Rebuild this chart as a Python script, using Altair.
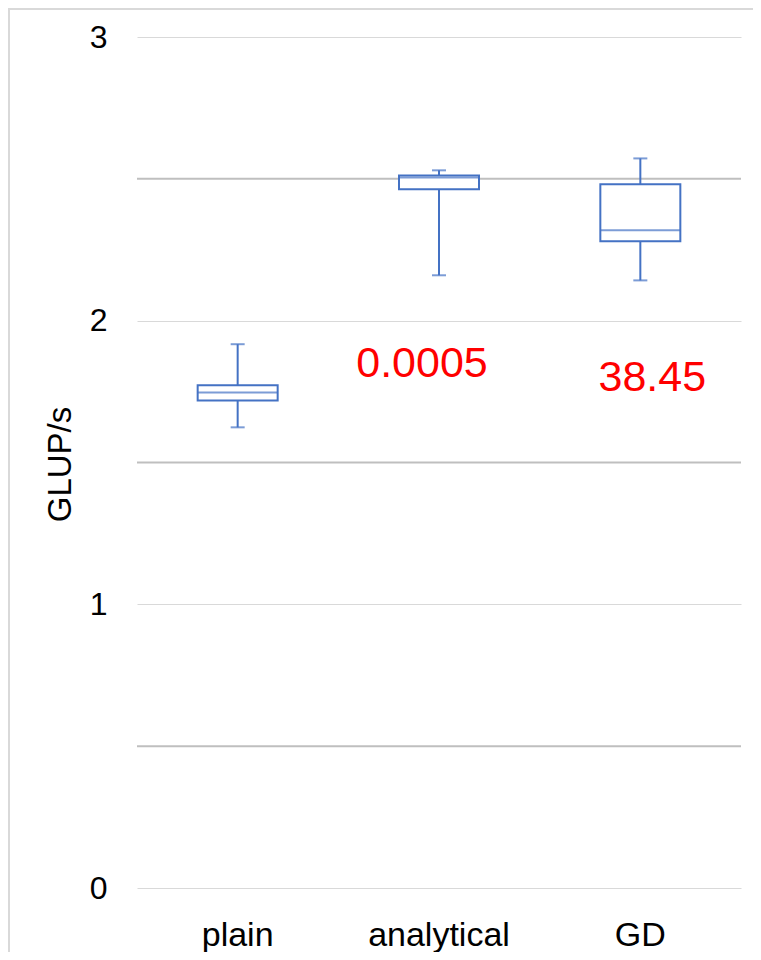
import altair as alt
import pandas as pd

# ---- data ----
categories = ["plain", "analytical", "GD"]
whisker_low = [1.624, 2.160, 2.142]
q1 = [1.719, 2.463, 2.280]
median = [1.747, 2.505, 2.319]
q3 = [1.772, 2.512, 2.481]
whisker_high = [1.917, 2.530, 2.572]

note_texts = ["0.0005", "38.45"]
note_categories = ["analytical", "GD"]
note_values = [1.800, 1.751]

major_ticks = [0, 1, 2, 3]
half_grid = [0.5, 1.5, 2.5]

FONT = "Liberation Sans"
BLUE = "#4472C4"

df = pd.DataFrame({
    "cat": categories,
    "lo": whisker_low,
    "q1": q1,
    "med": median,
    "q3": q3,
    "hi": whisker_high,
})
notes = pd.DataFrame({"cat": note_categories, "txt": note_texts, "v": note_values})
half = pd.DataFrame({"v": half_grid})

x_enc = alt.X(
    "cat:N",
    sort=categories,
    scale=alt.Scale(paddingInner=0, paddingOuter=0),
    axis=alt.Axis(
        title=None, ticks=False, domain=False, labelAngle=0,
        labelFontSize=34, labelFont=FONT, labelColor="#000000",
        labelPadding=57, labelBaseline="alphabetic",
    ),
)
y_scale = alt.Scale(domain=[0, 3], nice=False, zero=True)
y_axis = alt.Axis(
    values=major_ticks, format="d", ticks=False, domain=False,
    labelFontSize=32, labelFont=FONT, labelColor="#000000", labelPadding=30,
    grid=True, gridColor="#d9d9d9", gridWidth=1.2,
    title="GLUP/s", titleFont=FONT, titleFontSize=33, titleFontWeight="normal",
    titleColor="#000000", titleX=-77, titleY=427, titleAngle=270,
    titleAlign="center", titleBaseline="middle",
)

base = alt.Chart(df)

half_rules = alt.Chart(half).mark_rule(color="#bfbfbf", strokeWidth=2).encode(
    y=alt.Y("v:Q", scale=y_scale, axis=y_axis)
)

whisk_low = base.mark_rule(color=BLUE, strokeWidth=2).encode(
    x=x_enc, y=alt.Y("lo:Q", scale=y_scale), y2="q1:Q"
)
whisk_high = base.mark_rule(color=BLUE, strokeWidth=2).encode(
    x=x_enc, y=alt.Y("q3:Q", scale=y_scale), y2="hi:Q"
)
cap_low = base.mark_tick(color=BLUE, size=14, thickness=2, orient="horizontal").encode(
    x=x_enc, y=alt.Y("lo:Q", scale=y_scale)
)
cap_high = base.mark_tick(color=BLUE, size=14, thickness=2, orient="horizontal").encode(
    x=x_enc, y=alt.Y("hi:Q", scale=y_scale)
)
box = base.mark_bar(size=80, fill="white", stroke=BLUE, strokeWidth=2).encode(
    x=x_enc, y=alt.Y("q1:Q", scale=y_scale), y2="q3:Q"
)
med = base.mark_tick(color=BLUE, size=80, thickness=2, orient="horizontal").encode(
    x=x_enc, y=alt.Y("med:Q", scale=y_scale)
)

note_a = alt.Chart(notes).transform_filter(alt.datum.cat == "analytical").mark_text(
    color="#ff0000", fontSize=43, font=FONT, baseline="alphabetic", dx=-17
).encode(x=x_enc, y=alt.Y("v:Q", scale=y_scale), text="txt:N")
note_b = alt.Chart(notes).transform_filter(alt.datum.cat == "GD").mark_text(
    color="#ff0000", fontSize=43, font=FONT, baseline="alphabetic", dx=12
).encode(x=x_enc, y=alt.Y("v:Q", scale=y_scale), text="txt:N")

# outer frame of the figure (decoration)
frame_left = alt.Chart(df).mark_rule(color="#d9d9d9", strokeWidth=2).encode(
    x=alt.value(-128), y=alt.value(-29), y2=alt.value(930)
)
frame_top = alt.Chart(df).mark_rule(color="#d9d9d9", strokeWidth=2).encode(
    x=alt.value(-129), x2=alt.value(640), y=alt.value(-28)
)

chart = alt.layer(
    half_rules, whisk_low, whisk_high, cap_low, cap_high, box, med,
    note_a, note_b, frame_left, frame_top,
).properties(
    width=604, height=851,
    background="transparent",
    autosize=alt.AutoSizeParams(type="none"),
    padding={"left": 129, "top": 29, "right": 12, "bottom": 64},
).configure_view(strokeWidth=0, stroke=None)

chart.save("out.html", embed_options={"renderer": "svg", "actions": False})
